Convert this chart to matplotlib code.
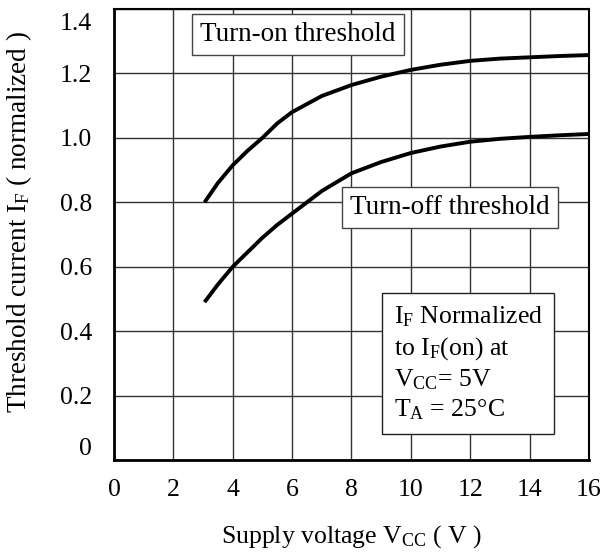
import matplotlib
matplotlib.use("Agg")
import matplotlib.pyplot as plt
import matplotlib.transforms as mtransforms

plt.rcParams['font.family'] = ['Liberation Serif', 'DejaVu Serif']
plt.rcParams['mathtext.fontset'] = 'custom'
plt.rcParams['mathtext.rm'] = 'Liberation Serif'
plt.rcParams['mathtext.it'] = 'Liberation Serif:italic'
plt.rcParams['font.size'] = 18.5

# values
vcc = [3.05, 3.5, 4, 4.5, 5, 5.5, 6, 7, 8, 9, 10, 11, 12, 13, 14, 15, 16]
turn_on = [0.80, 0.86, 0.915, 0.96, 1.00, 1.045, 1.08, 1.13, 1.164, 1.19, 1.211,
           1.227, 1.239, 1.246, 1.250, 1.254, 1.257]
turn_off = [0.49, 0.545, 0.60, 0.645, 0.69, 0.73, 0.765, 0.835, 0.89, 0.925, 0.953,
            0.973, 0.988, 0.997, 1.003, 1.008, 1.012]
xticks = [0, 2, 4, 6, 8, 10, 12, 14, 16]
yticks = [0, 0.2, 0.4, 0.6, 0.8, 1.0, 1.2, 1.4]
ytick_labels = ['0', '0.2', '0.4', '0.6', '0.8', '1.0', '1.2', '1.4']

fig = plt.figure(figsize=(6.01, 5.52), dpi=100)
ax = fig.add_axes([0.1897, 0.1667, 0.7903, 0.817])

ax.plot(vcc, turn_on, color='black', lw=2.8, solid_capstyle='butt', zorder=3)
ax.plot(vcc, turn_off, color='black', lw=2.8, solid_capstyle='butt', zorder=3)

ax.set_xlim(0, 16)
ax.set_ylim(0, 1.4)
ax.set_xticks(xticks)
ax.set_yticks(yticks)
ax.set_yticklabels(ytick_labels)
ax.grid(True, color='#333333', lw=1.0)
ax.set_axisbelow(True)
ax.tick_params(length=0, labelsize=18.5)
ax.tick_params(axis='x', pad=14)
ax.tick_params(axis='y', pad=16)
for side in ['left', 'bottom']:
    ax.spines[side].set_linewidth(2.0)
for side in ['top', 'right']:
    ax.spines[side].set_linewidth(1.5)

# end labels sit inside the frame in the reference
labs = ax.get_yticklabels()
labs[0].set_transform(labs[0].get_transform() + mtransforms.ScaledTranslation(0, 13 / 100, fig.dpi_scale_trans))
labs[-1].set_transform(labs[-1].get_transform() + mtransforms.ScaledTranslation(0, -13 / 100, fig.dpi_scale_trans))

ax.set_xlabel(r'Supply voltage V$_{\mathrm{CC}}$ ( V )', fontsize=18.5, labelpad=16)
ax.set_ylabel(r'Threshold current I$_{\mathrm{F}}$ ( normalized )', fontsize=19.5)
ax.yaxis.set_label_coords(-0.168, 0.528)

box = dict(boxstyle='square,pad=0.3', fc='white', ec='#444444', lw=1.0)
ax.text(6.2, 1.32, 'Turn-on threshold', ha='center', va='center', fontsize=19.5, bbox=box, zorder=4)
ax.text(11.32, 0.783, 'Turn-off threshold', ha='center', va='center', fontsize=19.5, bbox=box, zorder=4)

note = (r'I$_{\mathrm{F}}$ Normalized' + '\n' +
        r'to I$_{\mathrm{F}}$(on) at' + '\n' +
        r'V$_{\mathrm{CC}}$= 5V' + '\n' +
        r'T$_{\mathrm{A}}$ = 25°C')
ax.text(9.42, 0.30, note, ha='left', va='center', fontsize=18.5, linespacing=1.3,
        bbox=dict(boxstyle='square,pad=0.45', fc='white', ec='#222222', lw=1.0), zorder=4)

fig.savefig('out.png', dpi=100)
